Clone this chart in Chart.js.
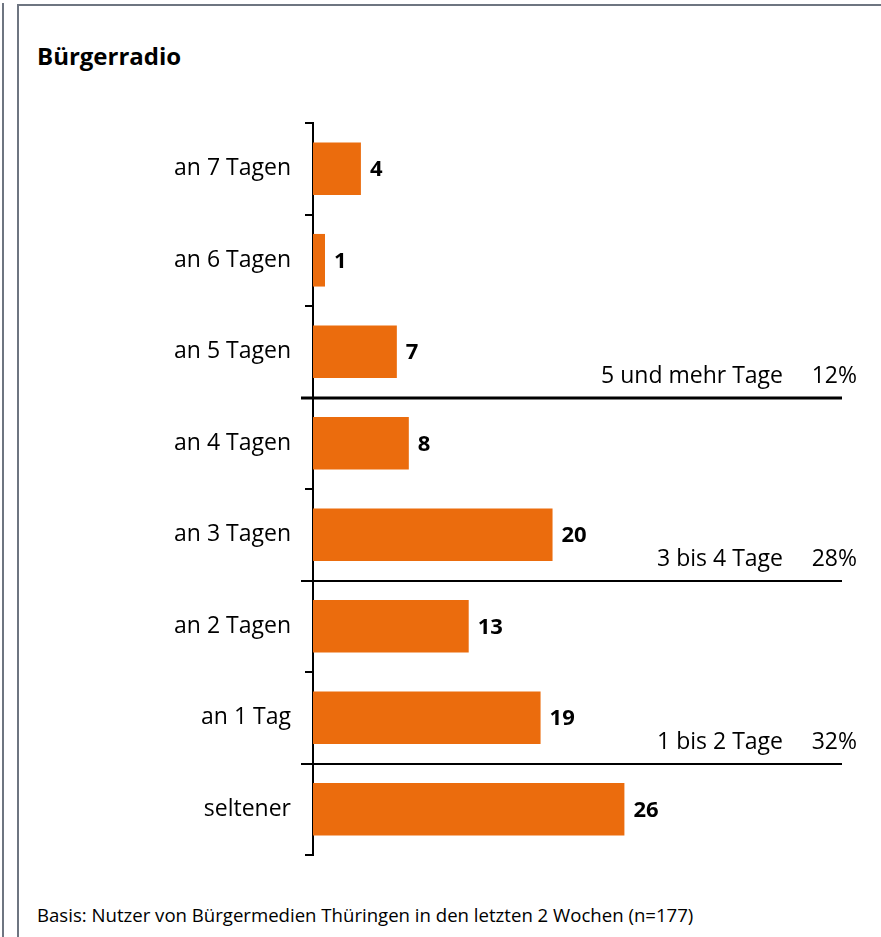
<!DOCTYPE html>
<html>
<head>
<meta charset="utf-8">
<script src="https://cdn.jsdelivr.net/npm/chart.js@4/dist/chart.umd.min.js"></script>
<style>
  html, body { margin: 0; padding: 0; background: #fff; }
  body { width: 881px; height: 937px; position: relative; overflow: hidden; font-family: "Open Sans", sans-serif; }
  #frameOuter { position: absolute; left: 2px; top: 3px; width: 2px; height: 940px; background: #6e7581; }
  #frameLeft { position: absolute; left: 17px; top: 4px; width: 2px; height: 940px; background: #6e7581; }
  #frameTop { position: absolute; left: 17px; top: 4px; width: 870px; height: 2px; background: #6e7581; }
  #title { position: absolute; left: 37px; top: 40px; font-size: 24px; font-weight: bold; color: #000; line-height: 32px; }
  #note { position: absolute; left: 37px; top: 903px; font-size: 18.6px; color: #000; line-height: 24px; }
  #wrap { position: absolute; left: 0; top: 0; width: 881px; height: 937px; }
</style>
</head>
<body>
<div id="frameOuter"></div>
<div id="frameLeft"></div>
<div id="frameTop"></div>
<div id="title">Bürgerradio</div>
<div id="note">Basis: Nutzer von Bürgermedien Thüringen in den letzten 2 Wochen (n=177)</div>
<div id="wrap"><canvas id="chart" width="881" height="937"></canvas></div>
<script>
// categories and values (percent)
const categories = ['an 7 Tagen', 'an 6 Tagen', 'an 5 Tagen', 'an 4 Tagen', 'an 3 Tagen', 'an 2 Tagen', 'an 1 Tag', 'seltener'];
const values = [4, 1, 7, 8, 20, 13, 19, 26];

// summary groups: line drawn below the category index in groupEnds
const groupLabels = ['5 und mehr Tage', '3 bis 4 Tage', '1 bis 2 Tage'];
const groupShares = [12, 28, 32];
const groupEnds = [2, 4, 6];

const barColor = '#eb6c0d';
const fontFamily = '"Open Sans", sans-serif';

// value labels next to the bars
const valueLabels = {
    id: 'valueLabels',
    afterDatasetsDraw(chart) {
        const ctx = chart.ctx;
        const meta = chart.getDatasetMeta(0);
        ctx.save();
        ctx.font = 'bold 22px ' + fontFamily;
        ctx.fillStyle = '#000';
        ctx.textAlign = 'left';
        ctx.textBaseline = 'middle';
        meta.data.forEach((bar, i) => {
            ctx.fillText(String(values[i]), bar.x + 9, bar.y + 1);
        });
        ctx.restore();
    }
};

// group separator lines with their summary text
const groupLines = {
    id: 'groupLines',
    afterDraw(chart) {
        const ctx = chart.ctx;
        const y = chart.scales.y;
        const area = chart.chartArea;
        ctx.save();
        groupEnds.forEach((idx, g) => {
            const ly = Math.round((y.getPixelForValue(idx) + y.getPixelForValue(idx + 1)) / 2);
            ctx.strokeStyle = '#000';
            ctx.lineWidth = g === 0 ? 3 : 2;
            ctx.beginPath();
            ctx.moveTo(area.left - 12, ly);
            ctx.lineTo(area.right + 2, ly);
            ctx.stroke();

            ctx.fillStyle = '#000';
            ctx.font = '23px ' + fontFamily;
            ctx.textBaseline = 'middle';
            ctx.textAlign = 'right';
            ctx.fillText(groupLabels[g], area.right - 57, ly - 22);
            ctx.fillText(groupShares[g] + '%', area.right + 17, ly - 22);
        });
        ctx.restore();
    }
};

new Chart(document.getElementById('chart'), {
    type: 'bar',
    data: {
        labels: categories,
        datasets: [{
            data: values,
            backgroundColor: barColor,
            borderWidth: 0,
            categoryPercentage: 1,
            barPercentage: 0.575
        }]
    },
    options: {
        indexAxis: 'y',
        responsive: false,
        animation: false,
        layout: { padding: { left: 0, right: 41, top: 123, bottom: 82 } },
        plugins: {
            legend: { display: false },
            tooltip: { enabled: false }
        },
        scales: {
            x: {
                display: false,
                min: 0,
                max: 44
            },
            y: {
                afterFit(scale) { scale.width = 313; },
                border: { display: true, color: '#000', width: 2 },
                grid: {
                    offset: true,
                    drawOnChartArea: false,
                    drawTicks: true,
                    tickLength: 8,
                    color: '#000',
                    lineWidth: 2
                },
                ticks: {
                    color: '#000',
                    padding: 14,
                    font: { family: fontFamily, size: 23 }
                }
            }
        }
    },
    plugins: [valueLabels, groupLines]
});
</script>
</body>
</html>
